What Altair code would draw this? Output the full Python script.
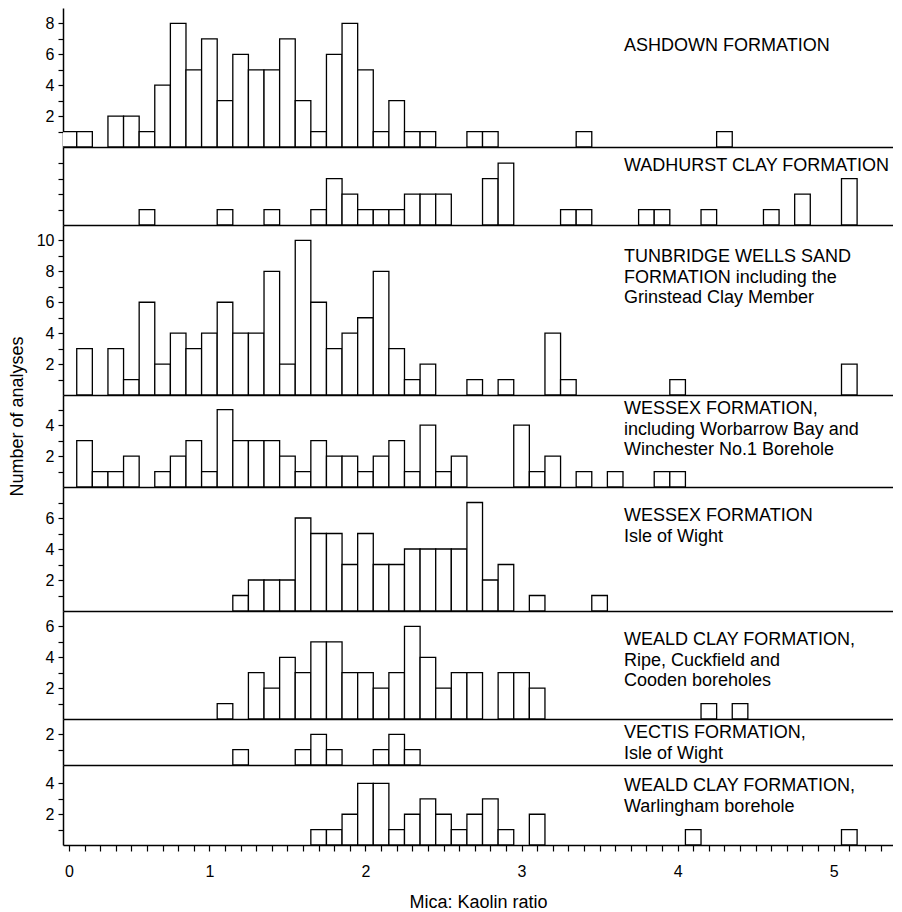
import altair as alt
import pandas as pd

FONT = "Liberation Sans"

# Bin centres (Mica:Kaolin ratio, 0.1-wide classes) and number of analyses
ashdown_x = [0.1, 0.2, 0.4, 0.5, 0.6, 0.7, 0.8, 0.9, 1.0, 1.1, 1.2, 1.3, 1.4, 1.5,
             1.6, 1.7, 1.8, 1.9, 2.0, 2.1, 2.2, 2.3, 2.4, 2.7, 2.8, 3.4, 4.3]
ashdown_n = [1, 1, 2, 2, 1, 4, 8, 5, 7, 3, 6, 5, 5, 7, 3, 1, 6, 8, 5, 1, 3, 1, 1, 1, 1, 1, 1]

wadhurst_x = [0.6, 1.1, 1.4, 1.7, 1.8, 1.9, 2.0, 2.1, 2.2, 2.3, 2.4, 2.5, 2.8, 2.9,
              3.3, 3.4, 3.8, 3.9, 4.2, 4.6, 4.8, 5.1]
wadhurst_n = [1, 1, 1, 1, 3, 2, 1, 1, 1, 2, 2, 2, 3, 4, 1, 1, 1, 1, 1, 1, 2, 3]

tunbridge_x = [0.2, 0.4, 0.5, 0.6, 0.7, 0.8, 0.9, 1.0, 1.1, 1.2, 1.3, 1.4, 1.5, 1.6,
               1.7, 1.8, 1.9, 2.0, 2.1, 2.2, 2.3, 2.4, 2.7, 2.9, 3.2, 3.3, 4.0, 5.1]
tunbridge_n = [3, 3, 1, 6, 2, 4, 3, 4, 6, 4, 4, 8, 2, 10, 6, 3, 4, 5, 8, 3, 1, 2, 1, 1, 4, 1, 1, 2]

wessex_x = [0.2, 0.3, 0.4, 0.5, 0.7, 0.8, 0.9, 1.0, 1.1, 1.2, 1.3, 1.4, 1.5, 1.6, 1.7,
            1.8, 1.9, 2.0, 2.1, 2.2, 2.3, 2.4, 2.5, 2.6, 3.0, 3.1, 3.2, 3.4, 3.6, 3.9, 4.0]
wessex_n = [3, 1, 1, 2, 1, 2, 3, 1, 5, 3, 3, 3, 2, 1, 3, 2, 2, 1, 2, 3, 1, 4, 1, 2,
            4, 1, 2, 1, 1, 1, 1]

wight_x = [1.2, 1.3, 1.4, 1.5, 1.6, 1.7, 1.8, 1.9, 2.0, 2.1, 2.2, 2.3, 2.4, 2.5, 2.6,
           2.7, 2.8, 2.9, 3.1, 3.5]
wight_n = [1, 2, 2, 2, 6, 5, 5, 3, 5, 3, 3, 4, 4, 4, 4, 7, 2, 3, 1, 1]

ripe_x = [1.1, 1.3, 1.4, 1.5, 1.6, 1.7, 1.8, 1.9, 2.0, 2.1, 2.2, 2.3, 2.4, 2.5, 2.6,
          2.7, 2.9, 3.0, 3.1, 4.2, 4.4]
ripe_n = [1, 3, 2, 4, 3, 5, 5, 3, 3, 2, 3, 6, 4, 2, 3, 3, 3, 3, 2, 1, 1]

vectis_x = [1.2, 1.6, 1.7, 1.8, 2.1, 2.2, 2.3]
vectis_n = [1, 1, 2, 1, 1, 2, 1]

warl_x = [1.7, 1.8, 1.9, 2.0, 2.1, 2.2, 2.3, 2.4, 2.5, 2.6, 2.7, 2.8, 2.9, 3.1, 4.1, 5.1]
warl_n = [1, 1, 2, 4, 4, 1, 2, 3, 2, 1, 2, 3, 1, 2, 1, 1]

# Panel captions
ashdown_t = ["ASHDOWN FORMATION"]
wadhurst_t = ["WADHURST CLAY FORMATION"]
tunbridge_t = ["TUNBRIDGE WELLS SAND", "FORMATION including the", "Grinstead Clay Member"]
wessex_t = ["WESSEX FORMATION,", "including Worbarrow Bay and", "Winchester No.1 Borehole"]
wight_t = ["WESSEX FORMATION", "Isle of Wight"]
ripe_t = ["WEALD CLAY FORMATION,", "Ripe, Cuckfield and", "Cooden boreholes"]
vectis_t = ["VECTIS FORMATION,", "Isle of Wight"]
warl_t = ["WEALD CLAY FORMATION,", "Warlingham borehole"]

x_ticks = [round(0.1 * i, 1) for i in range(1, 54)]

# layout: (xs, ns, caption, ymax, height, n_yticks, show_ylabels, caption_y)
layout = [
    (ashdown_x, ashdown_n, ashdown_t, 9.0, 139, 8, True, 29),
    (wadhurst_x, wadhurst_n, wadhurst_t, 5.05, 78, 4, False, 10),
    (tunbridge_x, tunbridge_n, tunbridge_t, 11.0, 170, 10, True, 23),
    (wessex_x, wessex_n, wessex_t, 5.95, 92, 5, True, 5),
    (wight_x, wight_n, wight_t, 8.0, 124, 7, True, 20),
    (ripe_x, ripe_n, ripe_t, 7.0, 108, 6, True, 20),
    (vectis_x, vectis_n, vectis_t, 3.0, 46, 2, True, 5),
    (warl_x, warl_n, warl_t, 5.2, 80, 4, True, 12),
]

W = 830
xscale = alt.Scale(domain=[0.062, 5.38], nice=False, zero=False)

panels = []
for i, (xs, ns, cap, ymax, h, nt, showlab, ty) in enumerate(layout):
    last = i == len(layout) - 1
    if last:
        xaxis = alt.Axis(
            values=x_ticks,
            labelExpr="datum.value < 0.15 ? '0' : (abs(datum.value - round(datum.value)) < 0.001 ? '' + round(datum.value) : '')",
            tickSize=6, tickWidth=1.2, tickColor="black",
            domainColor="black", domainWidth=1.5,
            labelFont=FONT, labelFontSize=16, labelColor="black", labelPadding=12,
            labelOverlap=False, labelFlush=False, labelBound=False,
            title="Mica: Kaolin ratio", titleFont=FONT, titleFontSize=18,
            titleFontWeight="normal", titleColor="black", titlePadding=14,
            grid=False,
        )
    else:
        xaxis = alt.Axis(labels=False, ticks=False, domain=True, domainColor="black",
                         domainWidth=1.5, title=None, grid=False)

    yargs = dict(
        values=list(range(1, nt + 1)),
        tickSize=5, tickWidth=1.2, tickColor="black",
        domainColor="black", domainWidth=1.5,
        labelFont=FONT, labelFontSize=16, labelColor="black", labelPadding=4,
        labelOverlap=False, labelFlush=False, labelBound=False,
        grid=False,
    )
    if showlab:
        yargs["labelExpr"] = "datum.value % 2 == 0 ? datum.label : ''"
    else:
        yargs["labels"] = False
    if i == 3:
        yargs.update(title="Number of analyses", titleFont=FONT, titleFontSize=18,
                     titleFontWeight="normal", titleColor="black", titleAngle=270,
                     titleAlign="center", titleBaseline="top", titleX=-55, titleY=21)
    else:
        yargs["title"] = None
    yaxis = alt.Axis(**yargs)

    df = pd.DataFrame({"ratio": xs, "count": ns})
    bars = (
        alt.Chart(df)
        .transform_calculate(lo="datum.ratio - 0.05", hi="datum.ratio + 0.05")
        .mark_rect(fill="white", stroke="black", strokeWidth=1.3, clip=True)
        .encode(
            x=alt.X("lo:Q", scale=xscale, axis=xaxis),
            x2="hi:Q",
            y=alt.Y("count:Q", scale=alt.Scale(domain=[0, ymax], nice=False, zero=True), axis=yaxis),
            y2=alt.datum(0),
        )
    )
    txt = (
        alt.Chart(pd.DataFrame({"k": [0]}))
        .mark_text(text=cap, align="left", baseline="top", font=FONT, fontSize=18,
                   lineHeight=20.6, color="black")
        .encode(x=alt.value(561), y=alt.value(ty))
    )
    panels.append(alt.layer(bars, txt).properties(width=W, height=h))

chart = (
    alt.vconcat(*panels, spacing=0, bounds="flush")
    .properties(padding={"left": 0, "top": 0, "right": 0, "bottom": 0}, background="white")
    .configure_view(stroke=None)
)

chart.save("out.html", embed_options={"renderer": "svg", "actions": False})
